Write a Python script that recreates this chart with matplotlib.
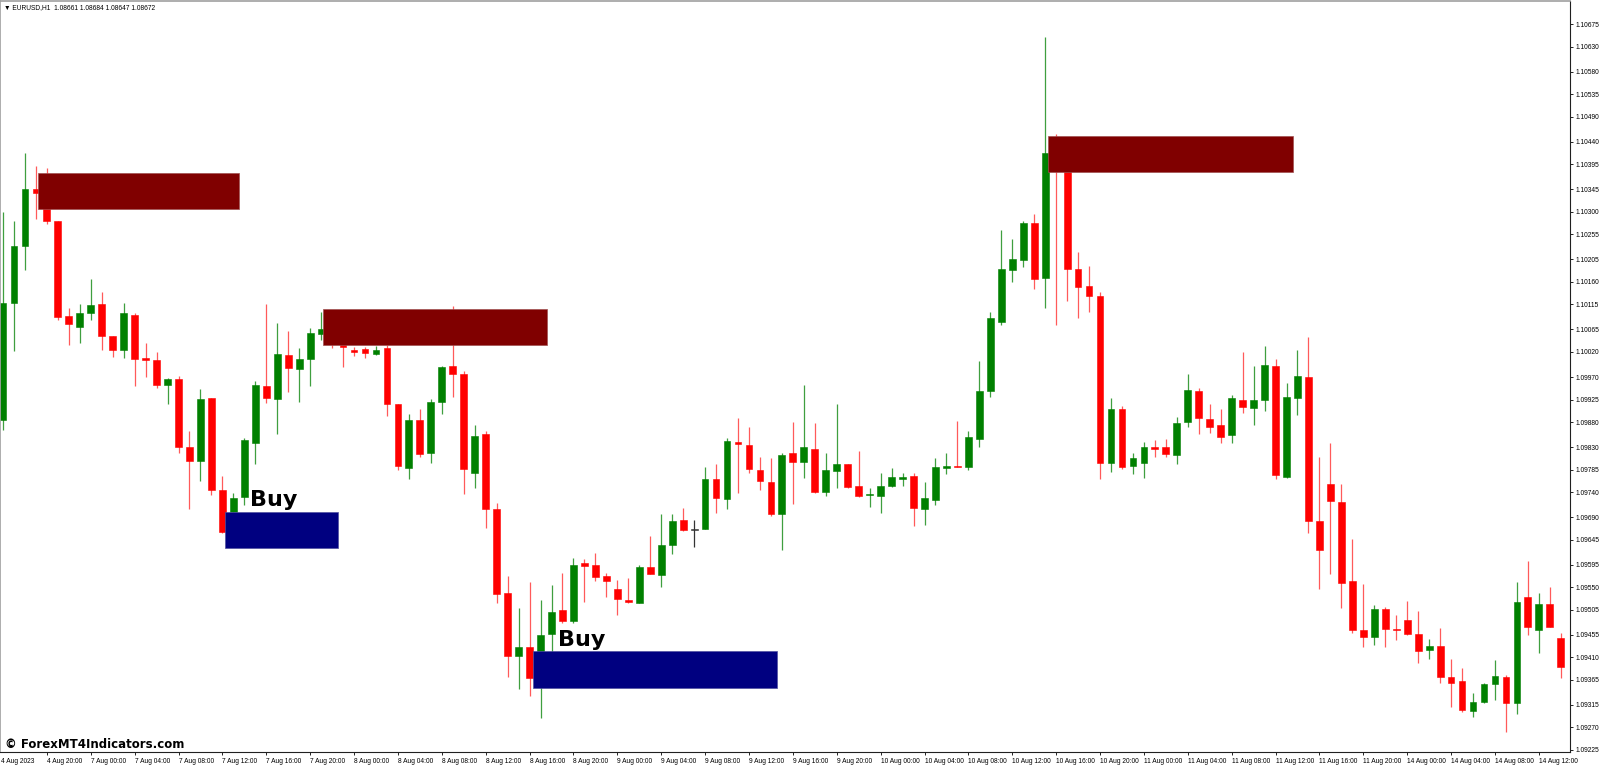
import matplotlib
matplotlib.use("Agg")
import matplotlib.pyplot as plt
from matplotlib.patches import Rectangle
import numpy as np

# EURUSD H1 candles, 4 Aug 16:00 -> 14 Aug 14:00
opens = [
    1.09884, 1.10118, 1.10232, 1.10346, 1.10338, 1.10282, 1.10092, 1.10070, 1.10098, 1.10116,
    1.10052, 1.10024, 1.10094, 1.10008, 1.10004, 1.09954, 1.09966, 1.09830, 1.09802, 1.09928,
    1.09744, 1.09700, 1.09730, 1.09838, 1.09952, 1.09926, 1.10014, 1.09986, 1.10006, 1.10056,
    1.10056, 1.10044, 1.10024, 1.10026, 1.10016, 1.10028, 1.09916, 1.09788, 1.09884, 1.09818,
    1.09920, 1.09992, 1.09976, 1.09778, 1.09856, 1.09706, 1.09539, 1.09413, 1.09431, 1.09401,
    1.09457, 1.09505, 1.09483, 1.09599, 1.09595, 1.09573, 1.09547, 1.09525, 1.09519, 1.09591,
    1.09575, 1.09635, 1.09684, 1.09666, 1.09666, 1.09766, 1.09726, 1.09840, 1.09834, 1.09784,
    1.09760, 1.09696, 1.09818, 1.09800, 1.09826, 1.09740, 1.09782, 1.09796, 1.09752, 1.09734,
    1.09732, 1.09752, 1.09766, 1.09772, 1.09706, 1.09724, 1.09788, 1.09792, 1.09790, 1.09846,
    1.09942, 1.10080, 1.10184, 1.10204, 1.10278, 1.10168, 1.10417, 1.10387, 1.10186, 1.10152,
    1.10132, 1.09798, 1.09906, 1.09792, 1.09798, 1.09830, 1.09830, 1.09814, 1.09880, 1.09942,
    1.09886, 1.09874, 1.09854, 1.09924, 1.09908, 1.09924, 1.09992, 1.09770, 1.09928, 1.09970,
    1.09682, 1.09756, 1.09720, 1.09563, 1.09465, 1.09451, 1.09507, 1.09467, 1.09485, 1.09457,
    1.09425, 1.09433, 1.09371, 1.09363, 1.09303, 1.09321, 1.09357, 1.09371, 1.09319, 1.09531,
    1.09465, 1.09517, 1.09449,
]
highs = [
    1.10300, 1.10282, 1.10417, 1.10391, 1.10387, 1.10282, 1.10108, 1.10116, 1.10166, 1.10140,
    1.10052, 1.10118, 1.10098, 1.10038, 1.10020, 1.09968, 1.09972, 1.09862, 1.09946, 1.09928,
    1.09772, 1.09738, 1.09848, 1.09962, 1.10116, 1.10078, 1.10062, 1.10028, 1.10068, 1.10100,
    1.10088, 1.10064, 1.10030, 1.10030, 1.10032, 1.10034, 1.09916, 1.09896, 1.09906, 1.09926,
    1.09992, 1.10112, 1.09982, 1.09874, 1.09862, 1.09718, 1.09573, 1.09509, 1.09561, 1.09525,
    1.09555, 1.09579, 1.09609, 1.09607, 1.09619, 1.09579, 1.09565, 1.09569, 1.09595, 1.09652,
    1.09696, 1.09696, 1.09708, 1.09684, 1.09790, 1.09796, 1.09848, 1.09888, 1.09870, 1.09810,
    1.09808, 1.09818, 1.09880, 1.09954, 1.09878, 1.09818, 1.09916, 1.09796, 1.09822, 1.09748,
    1.09778, 1.09788, 1.09778, 1.09778, 1.09760, 1.09808, 1.09818, 1.09882, 1.09862, 1.10002,
    1.10100, 1.10264, 1.10246, 1.10282, 1.10296, 1.10649, 1.10455, 1.10393, 1.10220, 1.10192,
    1.10140, 1.09928, 1.09912, 1.09818, 1.09840, 1.09844, 1.09846, 1.09890, 1.09976, 1.09948,
    1.09916, 1.09906, 1.09934, 1.10020, 1.09992, 1.10032, 1.10006, 1.09958, 1.10024, 1.10050,
    1.09810, 1.09838, 1.09756, 1.09646, 1.09557, 1.09515, 1.09511, 1.09495, 1.09523, 1.09503,
    1.09447, 1.09469, 1.09407, 1.09389, 1.09339, 1.09359, 1.09405, 1.09375, 1.09561, 1.09603,
    1.09539, 1.09551, 1.09459,
]
lows = [
    1.09864, 1.10022, 1.10184, 1.10286, 1.10276, 1.10084, 1.10034, 1.10038, 1.10084, 1.10024,
    1.10010, 1.10008, 1.09952, 1.09970, 1.09948, 1.09916, 1.09818, 1.09706, 1.09762, 1.09734,
    1.09658, 1.09694, 1.09714, 1.09796, 1.09918, 1.09856, 1.09940, 1.09920, 1.09952, 1.10044,
    1.10028, 1.09990, 1.10012, 1.10008, 1.10014, 1.09892, 1.09784, 1.09766, 1.09810, 1.09798,
    1.09896, 1.09930, 1.09736, 1.09748, 1.09668, 1.09519, 1.09371, 1.09347, 1.09333, 1.09289,
    1.09415, 1.09479, 1.09479, 1.09521, 1.09563, 1.09531, 1.09495, 1.09519, 1.09519, 1.09577,
    1.09551, 1.09617, 1.09662, 1.09631, 1.09666, 1.09698, 1.09706, 1.09738, 1.09778, 1.09744,
    1.09692, 1.09625, 1.09716, 1.09768, 1.09738, 1.09732, 1.09748, 1.09748, 1.09730, 1.09710,
    1.09698, 1.09750, 1.09752, 1.09672, 1.09674, 1.09714, 1.09776, 1.09790, 1.09784, 1.09830,
    1.09930, 1.10074, 1.10160, 1.10190, 1.10146, 1.10108, 1.10074, 1.10122, 1.10088, 1.10100,
    1.09766, 1.09780, 1.09786, 1.09776, 1.09768, 1.09810, 1.09810, 1.09796, 1.09870, 1.09856,
    1.09858, 1.09838, 1.09838, 1.09898, 1.09874, 1.09902, 1.09766, 1.09768, 1.09894, 1.09658,
    1.09547, 1.09577, 1.09509, 1.09459, 1.09431, 1.09435, 1.09431, 1.09445, 1.09455, 1.09399,
    1.09407, 1.09359, 1.09311, 1.09301, 1.09291, 1.09319, 1.09325, 1.09261, 1.09297, 1.09455,
    1.09419, 1.09471, 1.09369,
]
closes = [
    1.10118, 1.10232, 1.10346, 1.10338, 1.10282, 1.10090, 1.10076, 1.10098, 1.10114, 1.10052,
    1.10024, 1.10098, 1.10006, 1.10004, 1.09954, 1.09966, 1.09830, 1.09802, 1.09926, 1.09744,
    1.09660, 1.09728, 1.09844, 1.09954, 1.09928, 1.10016, 1.09988, 1.10006, 1.10058, 1.10066,
    1.10040, 1.10030, 1.10020, 1.10018, 1.10024, 1.09916, 1.09792, 1.09884, 1.09816, 1.09920,
    1.09990, 1.09976, 1.09786, 1.09852, 1.09706, 1.09537, 1.09413, 1.09431, 1.09369, 1.09455,
    1.09501, 1.09483, 1.09595, 1.09593, 1.09571, 1.09563, 1.09527, 1.09521, 1.09591, 1.09577,
    1.09635, 1.09682, 1.09664, 1.09666, 1.09766, 1.09728, 1.09842, 1.09836, 1.09786, 1.09762,
    1.09696, 1.09814, 1.09800, 1.09830, 1.09740, 1.09784, 1.09796, 1.09750, 1.09732, 1.09736,
    1.09752, 1.09770, 1.09770, 1.09708, 1.09728, 1.09790, 1.09792, 1.09790, 1.09850, 1.09942,
    1.10088, 1.10186, 1.10206, 1.10278, 1.10166, 1.10417, 1.10387, 1.10186, 1.10150, 1.10132,
    1.09798, 1.09906, 1.09790, 1.09808, 1.09830, 1.09826, 1.09816, 1.09878, 1.09944, 1.09888,
    1.09870, 1.09850, 1.09928, 1.09910, 1.09924, 1.09994, 1.09774, 1.09930, 1.09972, 1.09682,
    1.09625, 1.09722, 1.09559, 1.09465, 1.09451, 1.09507, 1.09467, 1.09465, 1.09457, 1.09423,
    1.09433, 1.09371, 1.09359, 1.09305, 1.09321, 1.09357, 1.09373, 1.09319, 1.09521, 1.09471,
    1.09517, 1.09471, 1.09391,
]

# every 4th bar from 4 Aug 20:00
time_labels = [
    "4 Aug 20:00", "7 Aug 00:00", "7 Aug 04:00", "7 Aug 08:00", "7 Aug 12:00", "7 Aug 16:00",
    "7 Aug 20:00", "8 Aug 00:00", "8 Aug 04:00", "8 Aug 08:00", "8 Aug 12:00", "8 Aug 16:00",
    "8 Aug 20:00", "9 Aug 00:00", "9 Aug 04:00", "9 Aug 08:00", "9 Aug 12:00", "9 Aug 16:00",
    "9 Aug 20:00", "10 Aug 00:00", "10 Aug 04:00", "10 Aug 08:00", "10 Aug 12:00", "10 Aug 16:00",
    "10 Aug 20:00", "11 Aug 00:00", "11 Aug 04:00", "11 Aug 08:00", "11 Aug 12:00", "11 Aug 16:00",
    "11 Aug 20:00", "14 Aug 00:00", "14 Aug 04:00", "14 Aug 08:00", "14 Aug 12:00",
]
price_ticks = [
    1.10675, 1.10630, 1.10580, 1.10535, 1.10490, 1.10440, 1.10395, 1.10345, 1.10300, 1.10255,
    1.10205, 1.10160, 1.10115, 1.10065, 1.10020, 1.09970, 1.09925, 1.09880, 1.09830, 1.09785,
    1.09740, 1.09690, 1.09645, 1.09595, 1.09550, 1.09505, 1.09455, 1.09410, 1.09365, 1.09315,
    1.09270, 1.09225,
]

# supply / demand zones: (bar from, bar to, top price, bottom price)
sell_zones = [(3.22, 21.51, 1.10378, 1.10306),
              (29.20, 49.56, 1.10105, 1.10034),
              (95.29, 117.62, 1.10451, 1.10380)]
buy_zones = [(20.24, 30.51, 1.09700, 1.09628),
             (48.29, 70.58, 1.09423, 1.09349)]
buy_signals = [(22.5, 1.09712), (50.56, 1.09433)]

header = "\u25bc EURUSD,H1  1.08661 1.08684 1.08647 1.08672"

plt.rcParams['font.family'] = ['Liberation Sans', 'DejaVu Sans']

W, H = 1600, 765
fig = plt.figure(figsize=(W / 100, H / 100), dpi=100)
ax = fig.add_axes([0, 13 / H, 1570 / W, 751 / H])

o = np.array(opens)
hi = np.array(highs)
lo = np.array(lows)
c = np.array(closes)
x = np.arange(len(o))

up = c > o
down = c < o
body_col = np.where(up, '#008000', np.where(down, '#ff0000', '#333333'))
wick_col = np.where(up, '#3f9f3f', np.where(down, '#ff5a5a', '#333333'))

ax.vlines(x, lo, hi, colors=wick_col, linewidth=0.9, zorder=1)

h = np.abs(c - o)
h_draw = np.maximum(h, 0.000018)
bottom = np.minimum(o, c) - (h_draw - h) / 2
ax.bar(x, h_draw, bottom=bottom, width=0.62, color=body_col,
       edgecolor=body_col, linewidth=0.4, zorder=2)

for x0, x1, top, bot in sell_zones:
    ax.add_patch(Rectangle((x0, bot), x1 - x0, top - bot, facecolor='#800000',
                           edgecolor='#a05050', linewidth=0.5, zorder=3))
for x0, x1, top, bot in buy_zones:
    ax.add_patch(Rectangle((x0, bot), x1 - x0, top - bot, facecolor='#000080',
                           edgecolor='#5050a0', linewidth=0.5, zorder=3))
for bx, by in buy_signals:
    ax.text(bx, by, "Buy", fontsize=16, fontweight='bold', family='DejaVu Sans',
            va='baseline', ha='left', color='black', zorder=4)

ax.set_xlim(-0.273, 142.84)
ax.set_ylim(1.09221, 1.10721)

ax.yaxis.tick_right()
ax.set_yticks(price_ticks)
ax.set_yticklabels([f"{p:.5f}" for p in price_ticks])
ax.tick_params(axis='y', direction='out', length=2.2, width=0.6, pad=1.5,
               labelsize=4.8, colors='black')

ax.set_xticks(np.arange(4, 4 + 4 * len(time_labels), 4))
ax.set_xticklabels(time_labels, ha='left')
ax.tick_params(axis='x', direction='out', length=2, width=0.6, pad=2.2,
               labelsize=4.8, colors='black')
ax.annotate("4 Aug 2023", xy=(0, 0), xycoords='axes fraction', xytext=(1, -4.2),
            textcoords='offset points', fontsize=4.8, ha='left', va='top')

for side in ['right', 'bottom']:
    ax.spines[side].set_color('#202020')
    ax.spines[side].set_linewidth(0.8)
for side in ['left', 'top']:
    ax.spines[side].set_color('#a0a0a0')
    ax.spines[side].set_linewidth(1.2)

fig.text(4 / W, 1 - 7.5 / H, header, fontsize=4.8, va='center', ha='left')
fig.text(5 / W, 1 - 748 / H, "\u00a9 ForexMT4Indicators.com", fontsize=8.5,
         fontweight='bold', family='DejaVu Sans', va='baseline', ha='left')

fig.savefig("out.png", dpi=100)
